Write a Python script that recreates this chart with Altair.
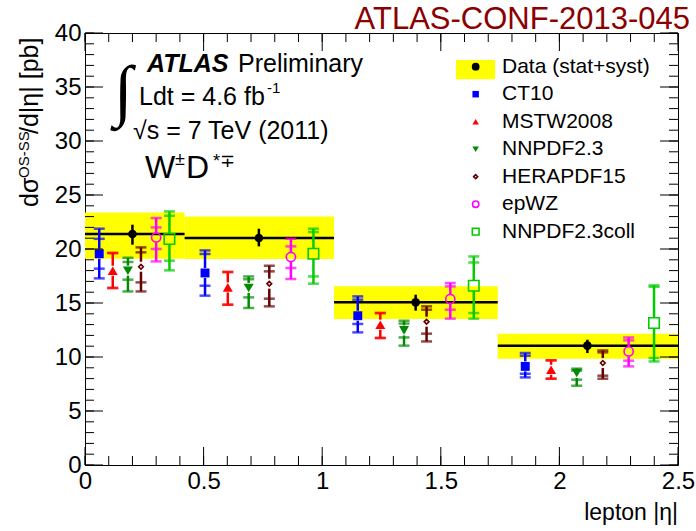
import altair as alt
import pandas as pd

# ---- measured W+D*(OS-SS) cross section in lepton |eta| bins ----
BIN_LO = [0.0, 0.42, 1.05, 1.74]
BIN_HI = [0.42, 1.05, 1.74, 2.5]
DATA_X = [0.20, 0.733, 1.394, 2.118]
DATA_VAL = [21.39, 21.02, 15.06, 11.05]
DATA_STAT_LO = [20.40, 20.24, 14.29, 10.37]
DATA_STAT_HI = [22.25, 21.88, 15.77, 11.60]
DATA_TOT_LO = [19.10, 19.07, 13.52, 9.84]
DATA_TOT_HI = [23.39, 23.02, 16.54, 12.16]

# ---- theory predictions (value, inner band, outer band) ----
PDF_NAMES = ["CT10", "MSTW2008", "NNPDF2.3", "HERAPDF15", "epWZ", "NNPDF2.3coll"]
PDF_COLORS = ["#0000ff", "#ff0000", "#008a00", "#660000", "#ff00ff", "#00cc00"]
PDF_SHAPES = ["square", "triangle-up", "triangle-down", "diamond", "circle", "square"]
PDF_FILLED = [True, True, True, False, False, False]
PDF_SIZES = [80, 100, 100, 22, 85, 110]
LEG_SIZES = [42, 42, 42, 16, 40, 45]

CT10_X = [0.060, 0.506, 1.150, 1.856]
CT10_VAL = [19.56, 17.78, 13.82, 9.13]
CT10_IN_LO = [18.18, 16.60, 13.06, 8.45]
CT10_IN_HI = [20.94, 19.54, 15.31, 10.12]
CT10_OUT_LO = [17.28, 15.68, 12.28, 8.11]
CT10_OUT_HI = [21.88, 19.87, 15.61, 10.37]

MSTW_X = [0.117, 0.602, 1.245, 1.965]
MSTW_VAL = [17.99, 16.44, 12.99, 8.82]
MSTW_IN_LO = [16.39, 14.84, 11.76, 7.99]
MSTW_IN_HI = [19.63, 17.87, 14.07, 9.69]
MSTW_OUT_LO = [16.39, 14.84, 11.76, 7.99]
MSTW_OUT_HI = [19.63, 17.87, 14.07, 9.69]

NNPDF_X = [0.181, 0.690, 1.345, 2.073]
NNPDF_VAL = [17.99, 16.39, 12.46, 8.52]
NNPDF_IN_LO = [17.16, 15.52, 11.81, 7.90]
NNPDF_IN_HI = [18.80, 17.20, 13.10, 8.74]
NNPDF_OUT_LO = [16.07, 14.54, 11.05, 7.34]
NNPDF_OUT_HI = [19.19, 17.46, 13.36, 8.92]

HERA_X = [0.236, 0.777, 1.440, 2.183]
HERA_VAL = [18.36, 16.79, 13.27, 9.44]
HERA_IN_LO = [16.91, 15.40, 12.16, 8.27]
HERA_IN_HI = [19.69, 17.93, 14.38, 10.43]
HERA_OUT_LO = [16.07, 14.69, 11.44, 7.99]
HERA_OUT_HI = [20.15, 18.45, 14.69, 10.61]

EPWZ_X = [0.300, 0.868, 1.540, 2.292]
EPWZ_VAL = [21.07, 19.26, 15.37, 10.52]
EPWZ_IN_LO = [20.00, 18.24, 14.38, 9.66]
EPWZ_IN_HI = [22.00, 20.24, 16.54, 11.54]
EPWZ_OUT_LO = [18.85, 17.22, 13.55, 9.13]
EPWZ_OUT_HI = [22.87, 20.95, 16.85, 11.81]

COLL_X = [0.356, 0.963, 1.639, 2.399]
COLL_VAL = [20.93, 19.56, 16.60, 13.15]
COLL_IN_LO = [18.92, 17.46, 14.07, 9.91]
COLL_IN_HI = [23.08, 21.57, 18.75, 16.50]
COLL_OUT_LO = [18.02, 16.79, 13.55, 9.59]
COLL_OUT_HI = [23.48, 21.88, 19.31, 16.63]

# ---- axis ticks ----
X_MAJOR = [0, 0.5, 1, 1.5, 2, 2.5]
X_MINOR = [i / 10 for i in range(26)]
Y_MAJOR = [0, 5, 10, 15, 20, 25, 30, 35, 40]
Y_MINOR = list(range(41))

W, H = 593, 432
FONT = "Liberation Sans"

series = [
    (CT10_X, CT10_VAL, CT10_IN_LO, CT10_IN_HI, CT10_OUT_LO, CT10_OUT_HI),
    (MSTW_X, MSTW_VAL, MSTW_IN_LO, MSTW_IN_HI, MSTW_OUT_LO, MSTW_OUT_HI),
    (NNPDF_X, NNPDF_VAL, NNPDF_IN_LO, NNPDF_IN_HI, NNPDF_OUT_LO, NNPDF_OUT_HI),
    (HERA_X, HERA_VAL, HERA_IN_LO, HERA_IN_HI, HERA_OUT_LO, HERA_OUT_HI),
    (EPWZ_X, EPWZ_VAL, EPWZ_IN_LO, EPWZ_IN_HI, EPWZ_OUT_LO, EPWZ_OUT_HI),
    (COLL_X, COLL_VAL, COLL_IN_LO, COLL_IN_HI, COLL_OUT_LO, COLL_OUT_HI),
]
rows = []
for name, (xs, vs, ilo, ihi, olo, ohi) in zip(PDF_NAMES, series):
    for k in range(len(xs)):
        rows.append(dict(pdf=name, x=xs[k], val=vs[k], in_lo=ilo[k], in_hi=ihi[k],
                         out_lo=olo[k], out_hi=ohi[k]))
pred = pd.DataFrame(rows)

data = pd.DataFrame(dict(lo=BIN_LO, hi=BIN_HI, x=DATA_X, val=DATA_VAL,
                         slo=DATA_STAT_LO, shi=DATA_STAT_HI,
                         tlo=DATA_TOT_LO, thi=DATA_TOT_HI))

XSC = alt.Scale(domain=[0, 2.5], nice=False, zero=False)
YSC = alt.Scale(domain=[0, 40], nice=False, zero=False)
XAX = alt.Axis(values=X_MAJOR, format="~g", ticks=False, domain=False, grid=False,
               labelFontSize=24, labelPadding=4, labelColor="black", labelFlush=False,
               title=None)
YAX = alt.Axis(values=Y_MAJOR, ticks=False, domain=False, grid=False,
               labelFontSize=24, labelPadding=4, labelColor="black", labelFlush=False,
               title=None)


def X(f):
    return alt.X(f, type="quantitative", scale=XSC, axis=XAX)


def Y(f):
    return alt.Y(f, type="quantitative", scale=YSC, axis=YAX)


color = alt.Color("pdf:N", scale=alt.Scale(domain=PDF_NAMES, range=PDF_COLORS), legend=None)

layers = []

# total uncertainty bands and bin-wide central lines
base = alt.Chart(data)
layers.append(base.mark_rect(color="#ffff00").encode(
    x=X("lo"), x2="hi", y=Y("tlo"), y2="thi"))
layers.append(base.mark_rule(color="black", strokeWidth=2.5).encode(
    x=X("lo"), x2="hi", y=Y("val")))
layers.append(base.mark_rule(color="black", strokeWidth=2.5).encode(
    x=X("x"), y=Y("slo"), y2="shi"))
layers.append(base.mark_point(filled=True, shape="circle", size=75, color="black",
                              opacity=1).encode(x=X("x"), y=Y("val")))

# predictions: error lines with a gap around the marker, caps, markers
pb = alt.Chart(pred)
layers.append(pb.mark_rule(strokeWidth=2.5, yOffset=-5).encode(
    x=X("x"), y=Y("val"), y2="out_hi", color=color))
layers.append(pb.mark_rule(strokeWidth=2.5, yOffset=5).encode(
    x=X("x"), y=Y("val"), y2="out_lo", color=color))
layers.append(pb.transform_fold(["in_lo", "in_hi", "out_lo", "out_hi"], as_=["kind", "edge"])
              .mark_tick(orient="horizontal", size=11, thickness=2.5)
              .encode(x=X("x"), y=Y("edge:Q"), color=color))

# legend rows (positioned in data coordinates, top right of the frame)
LEG_Y0, LEG_STEP = 36.88, 2.546
LEG_XM, LEG_XT = 1.647, 1.758
leg_names = ["Data (stat+syst)"] + PDF_NAMES
leg = pd.DataFrame({"label": leg_names,
                    "pdf": ["Data"] + PDF_NAMES,
                    "ly": [LEG_Y0 - i * LEG_STEP for i in range(len(leg_names))]})
leg["lx"] = LEG_XM
leg["tx"] = LEG_XT
lb = alt.Chart(leg)

# one marker layer per prediction, in the plot and in the legend
for name, col, shp, fil, sz, lsz in zip(PDF_NAMES, PDF_COLORS, PDF_SHAPES, PDF_FILLED,
                                         PDF_SIZES, LEG_SIZES):
    pick = alt.datum.pdf == name
    stroke_kw = {} if fil else {"strokeWidth": 1.6}
    layers.append(pb.transform_filter(pick)
                  .mark_point(filled=fil, shape=shp, size=sz, color=col, opacity=1, **stroke_kw)
                  .encode(x=X("x"), y=Y("val")))
    layers.append(lb.transform_filter(pick)
                  .mark_point(filled=fil, shape=shp, size=lsz, color=col, opacity=1, **stroke_kw)
                  .encode(x=X("lx"), y=Y("ly")))


# inward ticks on all four sides
def hticks(vals, length, top):
    d = pd.DataFrame({"t": vals})
    y0, y1 = (0, length) if top else (H, H - length)
    return alt.Chart(d).mark_rule(color="black", strokeWidth=1).encode(
        x=X("t"), y=alt.value(y0), y2=alt.value(y1))


def vticks(vals, length, right):
    d = pd.DataFrame({"t": vals})
    x0, x1 = (W, W - length) if right else (0, length)
    return alt.Chart(d).mark_rule(color="black", strokeWidth=1).encode(
        y=Y("t"), x=alt.value(x0), x2=alt.value(x1))


for side in (False, True):
    layers += [hticks(X_MINOR, 9, side), hticks(X_MAJOR, 18, side),
               vticks(Y_MINOR, 9, side), vticks(Y_MAJOR, 18, side)]

# legend entry for the data: yellow band with black dot
legbox = pd.DataFrame({"x0": [1.564], "x1": [1.729], "y0": [35.71], "y1": [37.5], "x": [LEG_XM],
                       "y": [LEG_Y0]})
layers.append(alt.Chart(legbox).mark_rect(color="#ffff00").encode(
    x=X("x0"), x2="x1", y=Y("y0"), y2="y1"))
layers.append(alt.Chart(legbox).mark_point(filled=True, shape="circle", size=60, color="black",
                                           opacity=1).encode(x=X("x"), y=Y("y")))
layers.append(lb.mark_text(align="left", baseline="middle", fontSize=21, font=FONT,
                           color="black").encode(x=X("tx"), y=Y("ly"), text="label:N"))


# free text
def label(txt, x, y, fs, **kw):
    opts = dict(align="left", baseline="alphabetic", font=FONT, color="black")
    opts.update(kw)
    return alt.Chart(pd.DataFrame({"t": [txt]})).mark_text(fontSize=fs, **opts).encode(
        text="t:N", x=alt.value(x), y=alt.value(y))


layers += [
    label("ATLAS-CONF-2013-045", 605, -4, 31, align="right", color="#8b0000"),
    label("ATLAS", 62, 39, 25, fontWeight="bold", fontStyle="italic"),
    label("Preliminary", 153, 39, 25),
    label("\u222b", 38, 60, 68, align="center", baseline="middle", font="Liberation Serif"),
    label("Ldt = 4.6 fb", 54, 72, 25),
    label("-1", 182, 60, 15),
    label("\u221as = 7 TeV (2011)", 48, 106, 25),
    label("W", 60, 145, 32),
    label("\u00b1", 90, 132, 18),
    label("D", 101, 145, 32),
    label("*\u2213", 128, 134, 18),
    label("lepton |\u03b7|", 593, 487, 23, align="right"),
    label("d\u03c3", -55, 174, 25, angle=270, baseline="middle"),
    label("OS-SS", -61, 145, 15, angle=270, baseline="middle"),
    label("/d|\u03b7| [pb]", -55, 101, 25, angle=270, baseline="middle"),
]

chart = (
    alt.layer(*layers)
    .properties(width=W, height=H,
                padding={"left": 85, "top": 33, "right": 18, "bottom": 66},
                autosize=alt.AutoSizeParams(type="none"))
    .configure(font=FONT)
    .configure_view(stroke="black", strokeWidth=1)
)

chart.save("out.html", embed_options={"renderer": "svg", "actions": False})
